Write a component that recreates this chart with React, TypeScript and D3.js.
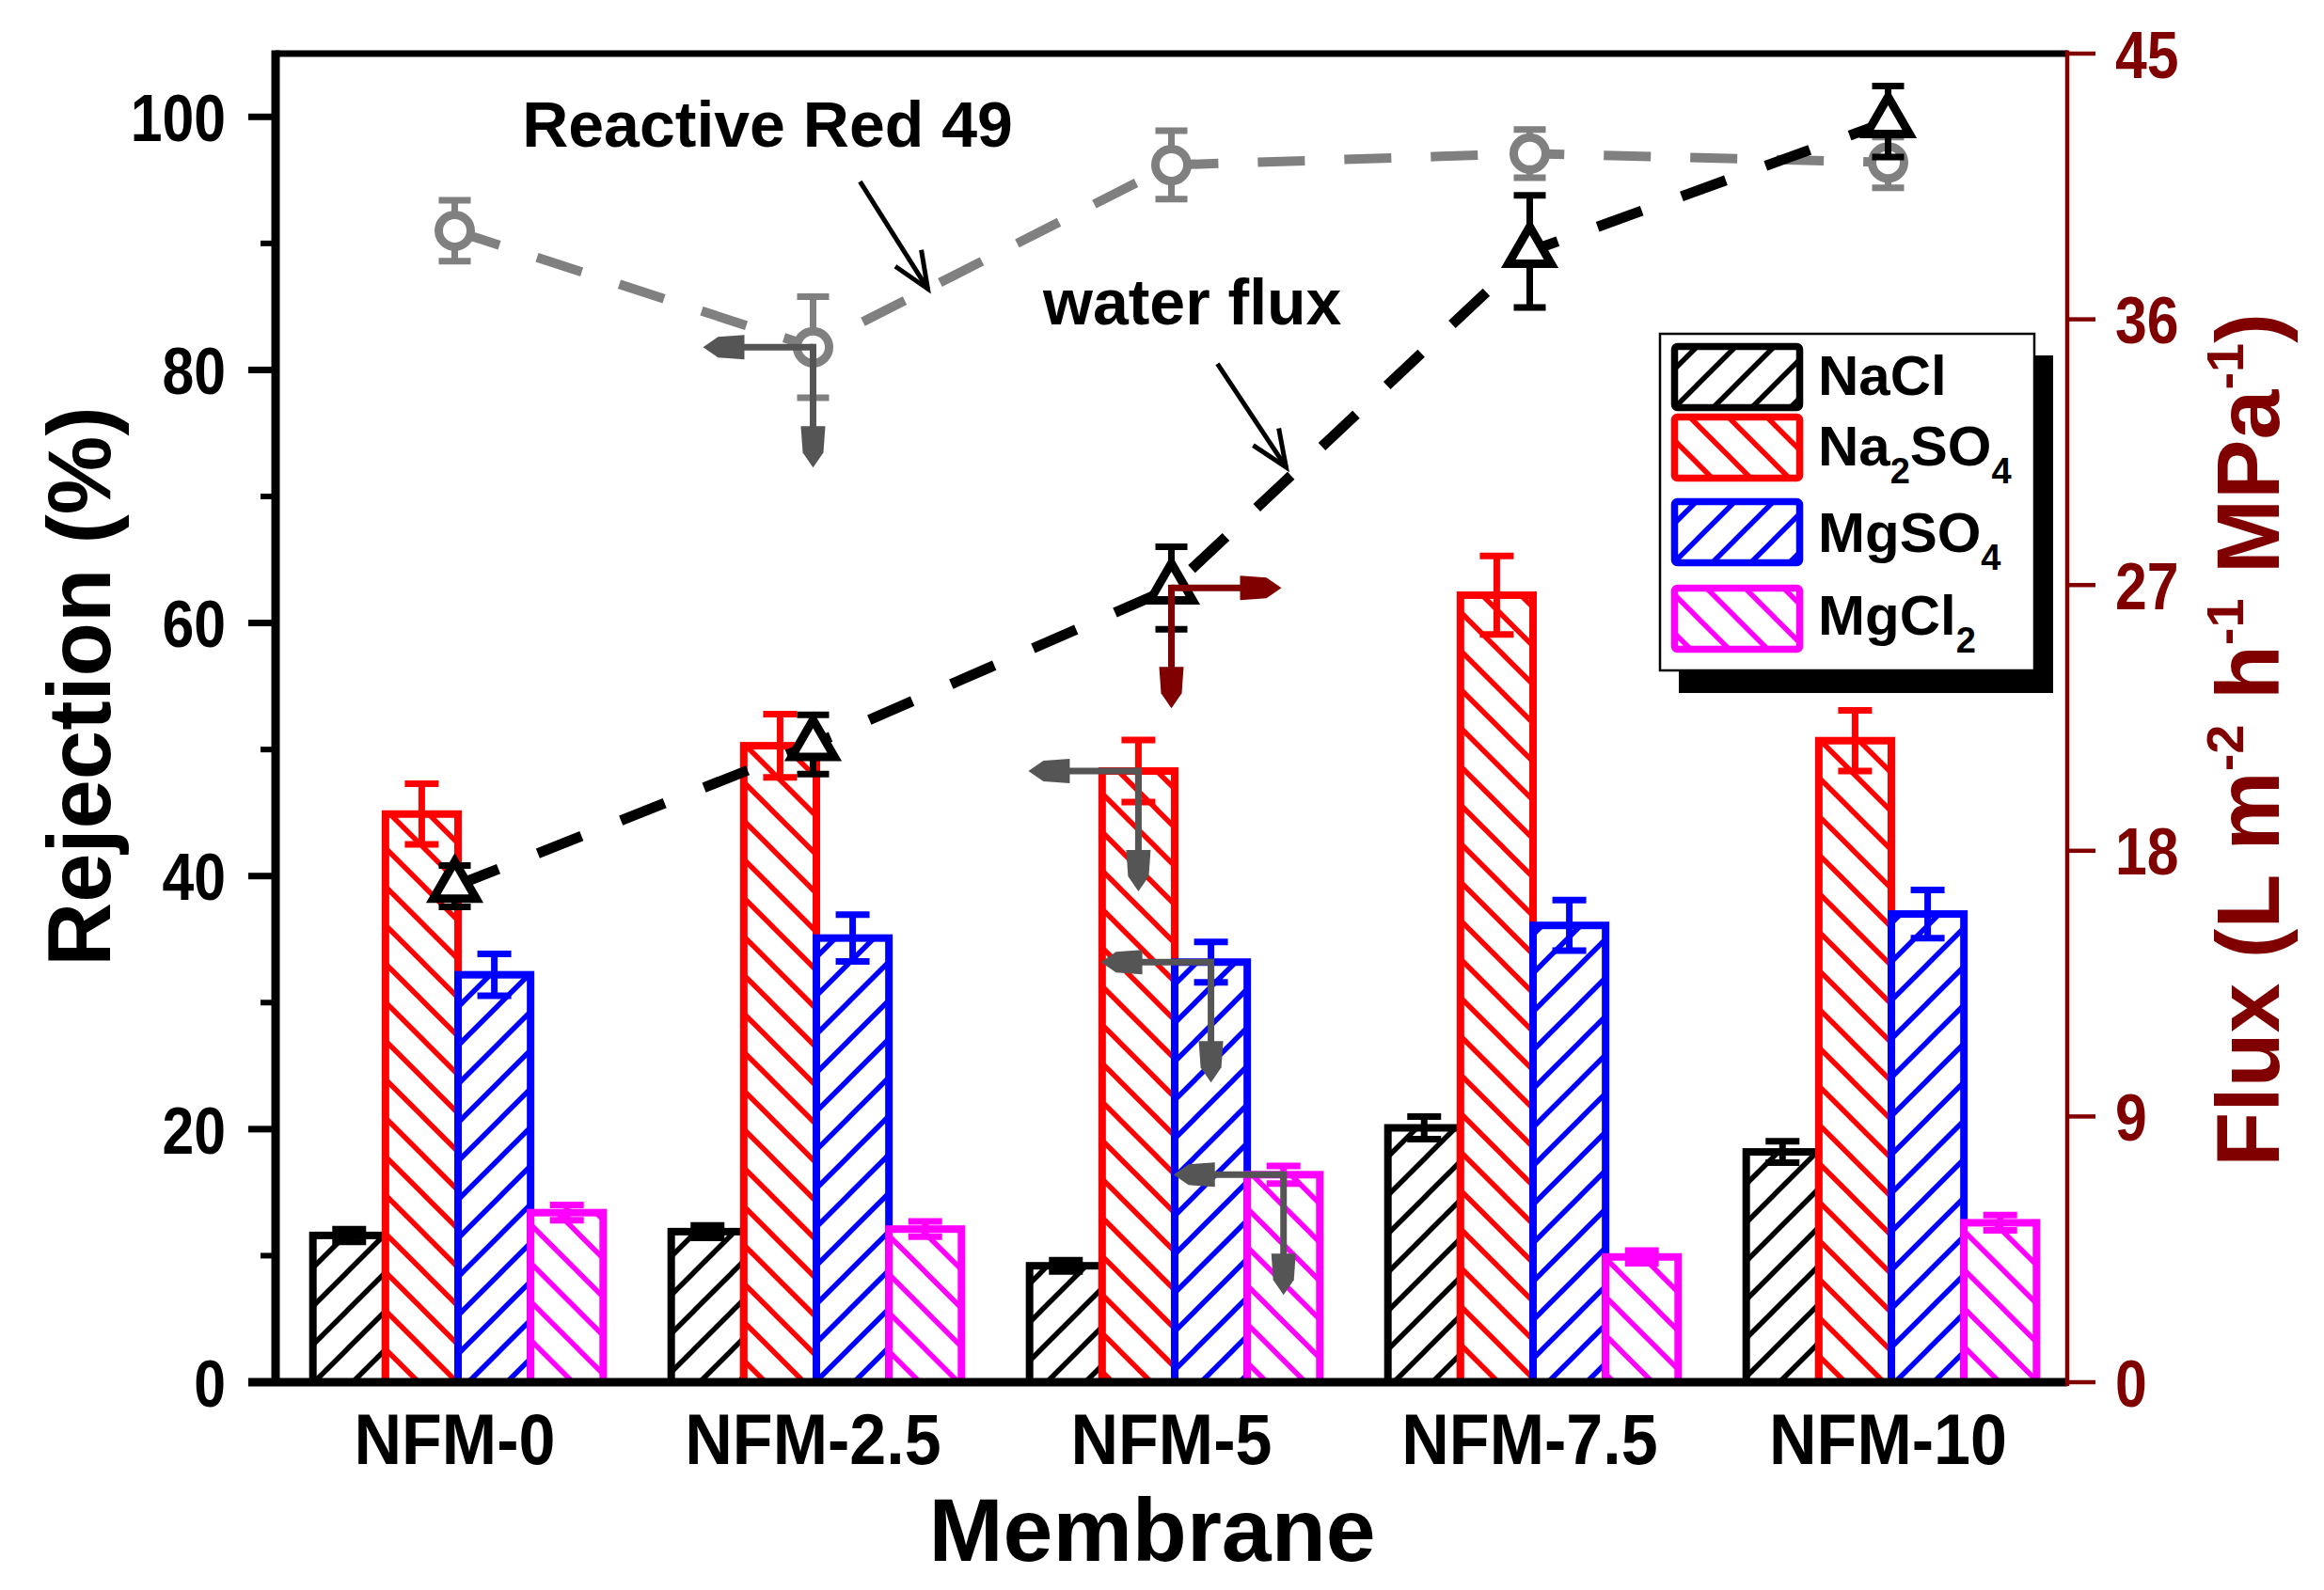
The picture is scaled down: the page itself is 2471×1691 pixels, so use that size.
import React from "react";
import { scaleBand, scaleLinear, line, symbol, symbolTriangle } from "d3";

// ---- data ----
const categories = ["NFM-0", "NFM-2.5", "NFM-5", "NFM-7.5", "NFM-10"];
const seriesNames = ["NaCl", "Na2SO4", "MgSO4", "MgCl2"];

const nacl = [11.6, 11.9, 9.2, 20.1, 18.2];
const naclErr = [0.5, 0.5, 0.45, 0.9, 0.85];
const na2so4 = [44.9, 50.3, 48.3, 62.2, 50.7];
const na2so4Err = [2.4, 2.5, 2.45, 3.1, 2.4];
const mgso4 = [32.2, 35.1, 33.2, 36.1, 37.0];
const mgso4Err = [1.65, 1.85, 1.6, 2.0, 1.9];
const mgcl2 = [13.4, 12.1, 16.4, 9.9, 12.6];
const mgcl2Err = [0.6, 0.6, 0.7, 0.5, 0.6];

const rr49 = [91.0, 81.8, 96.2, 97.1, 96.4];
const rr49Err = [2.4, 4.0, 2.7, 1.9, 2.0];
const flux = [16.8, 21.6, 26.9, 38.3, 42.7];
const fluxErr = [0.7, 1.0, 1.4, 1.9, 1.2];

const leftTicks = [0, 20, 40, 60, 80, 100];
const leftMinor = [10, 30, 50, 70, 90];
const rightTicks = [0, 9, 18, 27, 36, 45];

const barValues = [nacl, na2so4, mgso4, mgcl2];
const barErrors = [naclErr, na2so4Err, mgso4Err, mgcl2Err];
const barColors = ["#000000", "#ff0000", "#0000ff", "#ff00ff"];
const hatchDir = ["fwd", "back", "fwd", "back"];

// axis-association arrows: which point, horizontal direction
const axisArrows = [
  { kind: "rr49", index: 1, dir: "left", color: "#555555" },
  { kind: "flux", index: 2, dir: "right", color: "#800000" },
  { kind: "bar", series: 1, index: 2, dir: "left", color: "#555555" },
  { kind: "bar", series: 2, index: 2, dir: "left", color: "#555555" },
  { kind: "bar", series: 3, index: 2, dir: "left", color: "#555555" },
];

const W = 2471;
const H = 1691;
const plot = { left: 293, right: 2198, top: 57, bottom: 1470 };
const FONT = "'Liberation Sans', Arial, Helvetica, sans-serif";
const DARKRED = "#800000";

const xGroup = scaleBand<string>()
  .domain(categories)
  .range([plot.left, plot.right])
  .paddingInner(0.19)
  .paddingOuter(0.095);
const xSeries = scaleBand<string>().domain(seriesNames).range([0, xGroup.bandwidth()]);
const yLeft = scaleLinear().domain([0, 105]).range([plot.bottom, plot.top]);
const yRight = scaleLinear().domain([0, 45]).range([plot.bottom, plot.top]);
const cx = (i: number) => (xGroup(categories[i]) as number) + xGroup.bandwidth() / 2;

const HATCH = 41;

const Patterns = () => (
  <defs>
    {barColors.map((c, i) => {
      const h = HATCH;
      const q = h / 4;
      const d =
        hatchDir[i] === "fwd"
          ? `M0,${h} L${h},0 M${-q},${q} L${q},${-q} M${h - q},${h + q} L${h + q},${h - q}`
          : `M0,0 L${h},${h} M${-q},${h - q} L${q},${h + q} M${h - q},${-q} L${h + q},${q}`;
      return (
        <pattern key={i} id={`hatch-${i}`} patternUnits="userSpaceOnUse" width={h} height={h}>
          <rect width={h} height={h} fill="#fff" />
          <path d={d} stroke={c} strokeWidth={5.5} />
        </pattern>
      );
    })}
  </defs>
);

const ErrBar = ({ x, y1, y2, color, cap, sw }: any) => (
  <g stroke={color} strokeWidth={sw}>
    <line x1={x} x2={x} y1={y1} y2={y2} />
    <line x1={x - cap / 2} x2={x + cap / 2} y1={y1} y2={y1} />
    <line x1={x - cap / 2} x2={x + cap / 2} y1={y2} y2={y2} />
  </g>
);

const HEAD = "M0,0 L-16,-11 L-44,-13 L-44,13 L-16,11 Z";

const AxisArrow = ({ x, y, dir, color }: any) => {
  const hl = 117;
  const vl = 128;
  const hx = dir === "left" ? x - hl : x + hl;
  const hs = dir === "left" ? 1 : -1;
  return (
    <g fill={color} stroke={color}>
      <line x1={x} y1={y} x2={hx + hs * 36} y2={y} strokeWidth={7} />
      <line x1={x} y1={y - 3.5} x2={x} y2={y + vl - 36} strokeWidth={7} />
      <path d={HEAD} stroke="none" transform={`translate(${hx},${y}) rotate(${dir === "left" ? 180 : 0})`} />
      <path d={HEAD} stroke="none" transform={`translate(${x},${y + vl}) rotate(90)`} />
    </g>
  );
};

const OpenArrow = ({ tail, tip }: any) => {
  const a = Math.atan2(tip[1] - tail[1], tip[0] - tail[0]);
  const L = 42;
  const t = 0.4;
  const p1 = [tip[0] - L * Math.cos(a - t), tip[1] - L * Math.sin(a - t)];
  const p2 = [tip[0] - L * Math.cos(a + t), tip[1] - L * Math.sin(a + t)];
  return (
    <g stroke="#000" strokeWidth={5} fill="none">
      <line x1={tail[0]} y1={tail[1]} x2={tip[0]} y2={tip[1]} />
      <polyline points={`${p1[0]},${p1[1]} ${tip[0]},${tip[1]} ${p2[0]},${p2[1]}`} />
    </g>
  );
};

const Chem = ({ name, sub }: { name: string; sub: number }) => {
  // render digits as subscripts
  const parts = name.split(/(\d)/).filter((s) => s.length);
  return (
    <>
      {parts.map((p, i) =>
        /\d/.test(p) ? (
          <tspan key={i} fontSize={sub} dy={sub * 0.5}>
            {p}
          </tspan>
        ) : (
          <tspan key={i} dy={i > 0 ? -sub * 0.5 : 0}>
            {p}
          </tspan>
        )
      )}
    </>
  );
};

export default function App() {
  const lineLeft = line<number>()
    .x((_, i) => cx(i))
    .y((d) => yLeft(d));
  const lineRight = line<number>()
    .x((_, i) => cx(i))
    .y((d) => yRight(d));
  const tri = symbol().type(symbolTriangle).size(900)() as string;

  const lerp = (a: number[], b: number[], t: number) => [a[0] + (b[0] - a[0]) * t, a[1] + (b[1] - a[1]) * t];
  const rrTip = lerp([cx(1), yLeft(rr49[1])], [cx(2), yLeft(rr49[2])], 0.32);
  const fxTip0 = lerp([cx(2), yRight(flux[2])], [cx(3), yRight(flux[3])], 0.32);
  const fxTip = [fxTip0[0], fxTip0[1] - 14];

  const legendTops = [365, 440, 530, 622];
  const legendBase = [420, 495, 587, 675];

  return (
    <svg
      width={W}
      height={H}
      viewBox={`0 0 ${W} ${H}`}
      style={{ position: "absolute", left: 0, top: 0, background: "#fff" }}
      fontFamily={FONT}
      fontWeight="bold"
    >
      <Patterns />
      <rect width={W} height={H} fill="#fff" />

      {/* bars */}
      {categories.map((c, i) => (
        <g key={c}>
          {seriesNames.map((s, k) => {
            const x = (xGroup(c) as number) + (xSeries(s) as number);
            const w = xSeries.bandwidth();
            const v = barValues[k][i];
            return (
              <rect
                key={s}
                x={x + 3.5}
                y={yLeft(v)}
                width={w}
                height={plot.bottom - yLeft(v)}
                fill={`url(#hatch-${k})`}
                stroke={barColors[k]}
                strokeWidth={8}
              />
            );
          })}
          {seriesNames.map((s, k) => {
            const x = (xGroup(c) as number) + (xSeries(s) as number) + xSeries.bandwidth() / 2 + 3.5;
            const v = barValues[k][i];
            const e = barErrors[k][i];
            return <ErrBar key={s} x={x} y1={yLeft(v + e)} y2={yLeft(v - e)} color={barColors[k]} cap={36} sw={7} />;
          })}
        </g>
      ))}

      {/* Reactive Red 49 series */}
      <path d={lineLeft(rr49) as string} fill="none" stroke="#808080" strokeWidth={10} strokeDasharray="50 42" />
      {rr49.map((v, i) => (
        <ErrBar key={i} x={cx(i)} y1={yLeft(v + rr49Err[i])} y2={yLeft(v - rr49Err[i])} color="#808080" cap={34} sw={7} />
      ))}
      {rr49.map((v, i) => (
        <circle key={i} cx={cx(i)} cy={yLeft(v)} r={17} fill="#fff" stroke="#808080" strokeWidth={9} />
      ))}

      {/* water flux series */}
      <path d={lineRight(flux) as string} fill="none" stroke="#000" strokeWidth={11} strokeDasharray="50 45" />
      {flux.map((v, i) => (
        <ErrBar key={i} x={cx(i)} y1={yRight(v + fluxErr[i])} y2={yRight(v - fluxErr[i])} color="#000" cap={34} sw={7} />
      ))}
      {flux.map((v, i) => (
        <path key={i} d={tri} transform={`translate(${cx(i)},${yRight(v)})`} fill="#fff" stroke="#000" strokeWidth={9} />
      ))}

      {/* axis association arrows */}
      {axisArrows.map((a, j) => {
        let x = cx(a.index);
        let y = 0;
        if (a.kind === "rr49") y = yLeft(rr49[a.index]);
        else if (a.kind === "flux") y = yRight(flux[a.index]);
        else {
          const s = seriesNames[a.series as number];
          x = (xGroup(categories[a.index]) as number) + (xSeries(s) as number) + xSeries.bandwidth() / 2 + 3.5;
          y = yLeft(barValues[a.series as number][a.index]);
        }
        return <AxisArrow key={j} x={x} y={y} dir={a.dir} color={a.color} />;
      })}

      {/* annotations */}
      <text x={816} y={156} fontSize={68} textAnchor="middle">
        Reactive Red 49
      </text>
      <OpenArrow tail={[rrTip[0] - 72, rrTip[1] - 114]} tip={rrTip} />
      <text x={1109} y={345} fontSize={68}>
        water flux
      </text>
      <OpenArrow tail={[fxTip[0] - 73, fxTip[1] - 110]} tip={fxTip} />

      {/* frame & axes */}
      <line x1={plot.left} x2={plot.right} y1={plot.top} y2={plot.top} stroke="#000" strokeWidth={7} />
      <line x1={plot.left - 29} x2={plot.right} y1={plot.bottom} y2={plot.bottom} stroke="#000" strokeWidth={9} />
      <line x1={plot.left} x2={plot.left} y1={plot.top - 3.5} y2={plot.bottom + 4} stroke="#000" strokeWidth={9} />
      <line x1={plot.right} x2={plot.right} y1={plot.top - 3.5} y2={plot.bottom + 4} stroke={DARKRED} strokeWidth={4.5} />

      {leftTicks.map((t) => (
        <g key={t}>
          <line x1={plot.left - 29} x2={plot.left} y1={yLeft(t)} y2={yLeft(t)} stroke="#000" strokeWidth={7} />
          <text transform={`translate(240,${yLeft(t)}) scale(0.92,1.08)`} dy="0.36em" fontSize={66} textAnchor="end">
            {t}
          </text>
        </g>
      ))}
      {leftMinor.map((t) => (
        <line key={t} x1={plot.left - 16} x2={plot.left} y1={yLeft(t)} y2={yLeft(t)} stroke="#000" strokeWidth={6} />
      ))}
      {rightTicks.map((t) => (
        <g key={t}>
          <line x1={plot.right} x2={plot.right + 30} y1={yRight(t)} y2={yRight(t)} stroke={DARKRED} strokeWidth={4.5} />
          <text transform={`translate(2249,${yRight(t)}) scale(0.92,1.08)`} dy="0.36em" fontSize={66} fill={DARKRED}>
            {t}
          </text>
        </g>
      ))}
      {categories.map((c, i) => (
        <text key={c} transform={`translate(${cx(i)},1557) scale(0.96,1.04)`} fontSize={73} textAnchor="middle">
          {c}
        </text>
      ))}

      {/* axis titles */}
      <text x={1225} y={1660} fontSize={95} textAnchor="middle">
        Membrane
      </text>
      <text transform="translate(117,730) rotate(-90)" fontSize={94} textAnchor="middle">
        Rejection (%)
      </text>
      <text transform="translate(2423,787) rotate(-90)" fontSize={95} textAnchor="middle" fill={DARKRED}>
        Flux (L m<tspan fontSize={56} dy={-38}>-2</tspan>
        <tspan dy={38}> h</tspan>
        <tspan fontSize={56} dy={-38}>-1</tspan>
        <tspan dy={38}> MPa</tspan>
        <tspan fontSize={56} dy={-38}>-1</tspan>
        <tspan dy={38}>)</tspan>
      </text>

      {/* legend */}
      <rect x={1785} y={378} width={398} height={359} fill="#000" />
      <rect x={1765} y={355} width={398} height={358} fill="#fff" stroke="#000" strokeWidth={2.5} />
      {seriesNames.map((s, k) => (
        <g key={s}>
          <rect
            x={1780.5}
            y={legendTops[k] + 3.5}
            width={133}
            height={65}
            fill={`url(#hatch-${k})`}
            stroke={barColors[k]}
            strokeWidth={7.5}
            rx={3}
          />
          <text x={1933} y={legendBase[k]} fontSize={60}>
            <Chem name={s} sub={38} />
          </text>
        </g>
      ))}
    </svg>
  );
}
